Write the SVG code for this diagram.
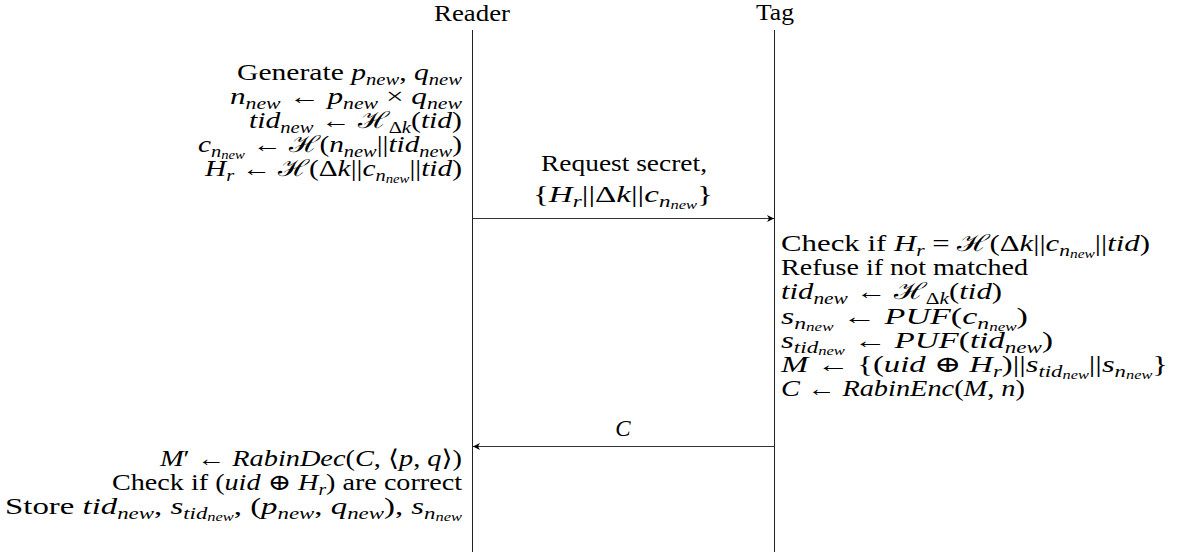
<svg xmlns="http://www.w3.org/2000/svg" width="1181" height="552" viewBox="0 0 1181 552">
<style>
text{font-family:"Liberation Serif","DejaVu Serif",serif;font-size:23px;fill:#000}
.i{font-style:italic}
.sb{font-size:16px;baseline-shift:-5px}
.ssb{font-size:11.5px;baseline-shift:-2px}
.e{text-anchor:end}
.c{text-anchor:middle}
.life{stroke:#222;stroke-width:1;fill:none}
.msg{stroke:#333;stroke-width:1;fill:none}
</style>
<defs>
<marker id="ah" markerUnits="userSpaceOnUse" markerWidth="10" markerHeight="10" viewBox="-8 -5 10 10" refX="0" refY="0" orient="auto">
<path d="M0,0 L-7,-3.5 L-5,0 L-7,3.5 Z" fill="#000"/>
</marker>
</defs>
<g id="reader">
<text class="c" x="472" y="21" textLength="76" lengthAdjust="spacingAndGlyphs">Reader</text>
<line class="life" x1="472.5" y1="30" x2="472.5" y2="552"/>
</g>
<g id="tag">
<text class="c" x="775" y="20" textLength="38" lengthAdjust="spacingAndGlyphs">Tag</text>
<line class="life" x1="774.5" y1="30" x2="774.5" y2="552"/>
</g>
<g id="connectors">
<line class="msg" x1="473" y1="218.5" x2="774" y2="218.5" marker-end="url(#ah)"/>
<line class="msg" x1="774" y1="446.5" x2="473" y2="446.5" marker-end="url(#ah)"/>
<text class="c" x="624" y="171" textLength="166" lengthAdjust="spacingAndGlyphs">Request secret,</text>
<text class="c" x="623" y="202" textLength="180" lengthAdjust="spacingAndGlyphs">{<tspan class="i">H</tspan><tspan class="i sb">r</tspan>||Δ<tspan class="i">k</tspan>||<tspan class="i">c</tspan><tspan class="i sb">n<tspan class="ssb">new</tspan></tspan>}</text>
<text class="c i" x="623" y="436">C</text>
</g>
<g id="reader-setup">
<text class="e" x="462" y="80" textLength="225" lengthAdjust="spacingAndGlyphs">Generate <tspan class="i">p</tspan><tspan class="i sb">new</tspan>, <tspan class="i">q</tspan><tspan class="i sb">new</tspan></text>
<text class="e" x="462" y="104" textLength="232" lengthAdjust="spacingAndGlyphs"><tspan class="i">n</tspan><tspan class="i sb">new</tspan> ← <tspan class="i">p</tspan><tspan class="i sb">new</tspan> × <tspan class="i">q</tspan><tspan class="i sb">new</tspan></text>
<text class="e" x="462" y="128" textLength="213" lengthAdjust="spacingAndGlyphs"><tspan class="i">tid</tspan><tspan class="i sb">new</tspan> ← ℋ<tspan class="sb">Δ<tspan class="i">k</tspan></tspan>(<tspan class="i">tid</tspan>)</text>
<text class="e" x="462" y="152" textLength="264" lengthAdjust="spacingAndGlyphs"><tspan class="i">c</tspan><tspan class="i sb">n<tspan class="ssb">new</tspan></tspan> ← ℋ(<tspan class="i">n</tspan><tspan class="i sb">new</tspan>||<tspan class="i">tid</tspan><tspan class="i sb">new</tspan>)</text>
<text class="e" x="462" y="176" textLength="257" lengthAdjust="spacingAndGlyphs"><tspan class="i">H</tspan><tspan class="i sb">r</tspan> ← ℋ(Δ<tspan class="i">k</tspan>||<tspan class="i">c</tspan><tspan class="i sb">n<tspan class="ssb">new</tspan></tspan>||<tspan class="i">tid</tspan>)</text>
</g>
<g id="tag-process">
<text x="781" y="251" textLength="369" lengthAdjust="spacingAndGlyphs">Check if <tspan class="i">H</tspan><tspan class="i sb">r</tspan> = ℋ(Δ<tspan class="i">k</tspan>||<tspan class="i">c</tspan><tspan class="i sb">n<tspan class="ssb">new</tspan></tspan>||<tspan class="i">tid</tspan>)</text>
<text x="781" y="275" textLength="247" lengthAdjust="spacingAndGlyphs">Refuse if not matched</text>
<text x="781" y="299" textLength="221" lengthAdjust="spacingAndGlyphs"><tspan class="i">tid</tspan><tspan class="i sb">new</tspan> ← ℋ<tspan class="sb">Δ<tspan class="i">k</tspan></tspan>(<tspan class="i">tid</tspan>)</text>
<text x="781" y="324" textLength="247" lengthAdjust="spacingAndGlyphs"><tspan class="i">s</tspan><tspan class="i sb">n<tspan class="ssb">new</tspan></tspan> ← <tspan class="i">PUF</tspan>(<tspan class="i">c</tspan><tspan class="i sb">n<tspan class="ssb">new</tspan></tspan>)</text>
<text x="781" y="348" textLength="272" lengthAdjust="spacingAndGlyphs"><tspan class="i">s</tspan><tspan class="i sb">tid<tspan class="ssb">new</tspan></tspan> ← <tspan class="i">PUF</tspan>(<tspan class="i">tid</tspan><tspan class="i sb">new</tspan>)</text>
<text x="781" y="372" textLength="387" lengthAdjust="spacingAndGlyphs"><tspan class="i">M</tspan> ← {(<tspan class="i">uid</tspan> ⊕ <tspan class="i">H</tspan><tspan class="i sb">r</tspan>)||<tspan class="i">s</tspan><tspan class="i sb">tid<tspan class="ssb">new</tspan></tspan>||<tspan class="i">s</tspan><tspan class="i sb">n<tspan class="ssb">new</tspan></tspan>}</text>
<text x="781" y="396" textLength="244" lengthAdjust="spacingAndGlyphs"><tspan class="i">C</tspan> ← <tspan class="i">RabinEnc</tspan>(<tspan class="i">M</tspan>, <tspan class="i">n</tspan>)</text>
</g>
<g id="reader-verify">
<text class="e" x="462" y="466" textLength="302" lengthAdjust="spacingAndGlyphs"><tspan class="i">M</tspan>′ ← <tspan class="i">RabinDec</tspan>(<tspan class="i">C</tspan>, ⟨<tspan class="i">p</tspan>, <tspan class="i">q</tspan>⟩)</text>
<text class="e" x="462" y="490" textLength="350" lengthAdjust="spacingAndGlyphs">Check if (<tspan class="i">uid</tspan> ⊕ <tspan class="i">H</tspan><tspan class="i sb">r</tspan>) are correct</text>
<text class="e" x="462" y="514" textLength="457" lengthAdjust="spacingAndGlyphs">Store <tspan class="i">tid</tspan><tspan class="i sb">new</tspan>, <tspan class="i">s</tspan><tspan class="i sb">tid<tspan class="ssb">new</tspan></tspan>, (<tspan class="i">p</tspan><tspan class="i sb">new</tspan>, <tspan class="i">q</tspan><tspan class="i sb">new</tspan>), <tspan class="i">s</tspan><tspan class="i sb">n<tspan class="ssb">new</tspan></tspan></text>
</g>
</svg>
